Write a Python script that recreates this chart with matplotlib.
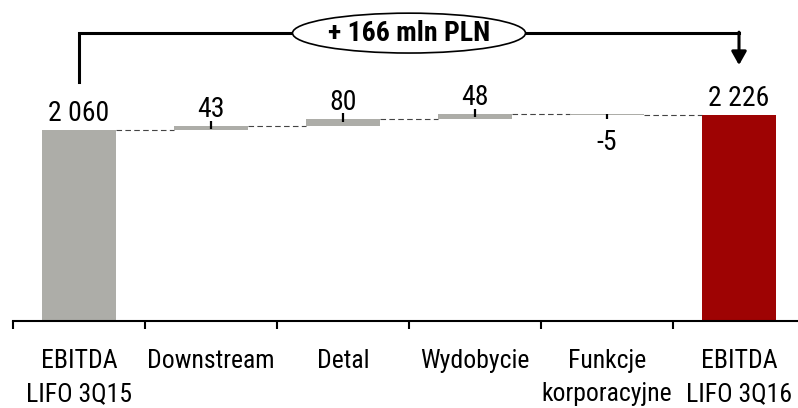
#
# EBITDA LIFO bridge 3Q15 -> 3Q16 (waterfall)
#
import numpy as np
import matplotlib
matplotlib.use('agg')
import matplotlib.pyplot as plt
from matplotlib import font_manager
from matplotlib.patches import Ellipse

# the original uses a narrow sans; take one if it is there, else Liberation Sans a bit smaller
installed = {f.name for f in font_manager.fontManager.ttflist}
narrow = next((n for n in ["Liberation Sans Narrow", "Arial Narrow", "Roboto Condensed",
                           "Open Sans Condensed"] if n in installed), None)
if narrow:
    plt.rcParams['font.family'] = [narrow, 'Liberation Sans', 'DejaVu Sans']
    fs_val, fs_cat, fs_box, lsp = 20, 18.5, 20, 1.48
else:
    plt.rcParams['font.family'] = ['Liberation Sans', 'DejaVu Sans']
    fs_val, fs_cat, fs_box, lsp = 18, 16.5, 16, 1.6

# data
categories = ["EBITDA\nLIFO 3Q15", "Downstream", "Detal", "Wydobycie",
              "Funkcje\nkorporacyjne", "EBITDA\nLIFO 3Q16"]
start_value = 2060
deltas = [43, 80, 48, -5]
end_value = 2226
value_labels = ["2 060", "43", "80", "48", "-5", "2 226"]
bridge_label = "+ 166 mln PLN"

grey = "#ADADA8"
red = "#9E0303"
bw = 0.56

fig = plt.figure(figsize=(7.98, 4.08), dpi=100)
ax = fig.add_axes([13 / 798, 0.2132, 792 / 798, 0.75])

# running totals
levels = np.concatenate([[start_value], start_value + np.cumsum(deltas)])

# totals
ax.bar(0, start_value, width=bw, color=grey, zorder=2)
ax.bar(5, end_value, width=bw, color=red, zorder=2)

# deltas
for i, d in enumerate(deltas):
    x = i + 1
    base = levels[i]
    ax.bar(x, d, bottom=base, width=bw, color=grey, zorder=2)
    if d >= 0:
        ax.vlines(x, base + d - 35, base + d + 55, color="black", lw=1.6, zorder=3)
    else:
        ax.vlines(x, base + d - 50, base, color="black", lw=1.6, zorder=3)

# dashed connectors
for i in range(5):
    ax.hlines(levels[i], i + bw / 2, i + 1 - bw / 2, color="#444444", lw=0.8,
              linestyles=(0, (5, 3)), zorder=1)

# value labels
tops = [start_value] + [levels[i] + max(d, 0) for i, d in enumerate(deltas)] + [end_value]
for i, lab in enumerate(value_labels):
    if i in (1, 2, 3, 4) and deltas[i - 1] < 0:
        ax.text(i, levels[i] - 150, lab, ha="center", va="top", fontsize=fs_val)
    else:
        ax.text(i, tops[i] + 95, lab, ha="center", va="baseline", fontsize=fs_val)

# bracket with arrow
yb = 3105
ax.plot([0, 0, 5], [2580, yb, yb], color="black", lw=2.2, solid_joinstyle="miter",
        clip_on=False, zorder=3)
ax.annotate("", xy=(5, 2760), xytext=(5, yb + 10),
            arrowprops=dict(arrowstyle="-|>,head_length=0.8,head_width=0.45",
                            color="black", lw=2.2, shrinkA=0, shrinkB=0),
            annotation_clip=False)
ax.add_patch(Ellipse((2.5, yb), 1.765, 430, facecolor="white", edgecolor="black",
                     lw=1.2, zorder=4, clip_on=False))
ax.text(2.5, yb, bridge_label, ha="center", va="center", fontsize=fs_box,
        fontweight="bold", zorder=5)

# axes
ax.set_xlim(-0.5, 5.5)
ax.set_ylim(0, 3300)
for s in ["left", "right", "top"]:
    ax.spines[s].set_visible(False)
ax.spines["bottom"].set_linewidth(1.5)
ax.set_yticks([])
ax.set_xticks(range(6))
ax.set_xticklabels(categories, fontsize=fs_cat, linespacing=lsp)
for lab in ax.get_xticklabels():
    lab.set_multialignment("center")
ax.tick_params(axis="x", which="major", length=0, pad=20)
ax.set_xticks(np.arange(-0.5, 6, 1), minor=True)
ax.tick_params(axis="x", which="minor", length=6, width=1.5, direction="out")

plt.savefig("out.png", dpi=100)
